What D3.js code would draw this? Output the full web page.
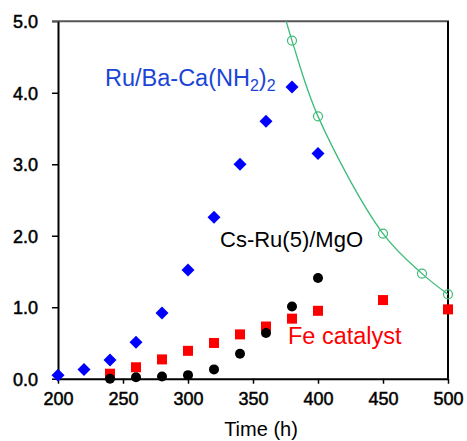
<!DOCTYPE html>
<html>
<head>
<meta charset="utf-8">
<script src="https://cdn.jsdelivr.net/npm/d3@7"></script>
<style>
  body { margin: 0; background: #fff; }
  text { font-family: "Liberation Sans", Arial, sans-serif; }
</style>
</head>
<body>
<div id="chart"></div>
<script>
// Data
const ruBaTime = [200, 220, 240, 260, 280, 300, 320, 340, 360, 380, 400];
const ruBaRate = [0.05, 0.13, 0.26, 0.51, 0.92, 1.52, 2.26, 3.0, 3.6, 4.08, 3.15];

const csRuTime = [240, 260, 280, 300, 320, 340, 360, 380, 400];
const csRuRate = [0.0, 0.02, 0.03, 0.05, 0.13, 0.35, 0.64, 1.01, 1.41];

const feTime = [240, 260, 280, 300, 320, 340, 360, 380, 400, 450, 500];
const feRate = [0.07, 0.16, 0.27, 0.39, 0.50, 0.62, 0.73, 0.84, 0.95, 1.10, 0.97];

const greenTime = [380, 400, 450, 480, 500];
const greenRate = [4.73, 3.67, 2.03, 1.47, 1.18];
// trend curve as drawn (enters the top edge near 375 h)
const curveTime = [374, 380, 400, 450, 480, 500];
const curveRate = [5.1, 4.73, 3.67, 2.03, 1.47, 1.18];

const xTicks = [200, 250, 300, 350, 400, 450, 500];
const yTicks = [0, 1, 2, 3, 4, 5];

const width = 467, height = 441;
const plotL = 58, plotR = 448, plotT = 21.3, plotB = 378.7;

const svg = d3.select("#chart").append("svg")
    .attr("width", width)
    .attr("height", height);

const x = d3.scaleLinear().domain([200, 500]).range([plotL, plotR]);
const y = d3.scaleLinear().domain([0, 5]).range([plotB, plotT]);

svg.append("clipPath").attr("id", "plot")
  .append("rect")
    .attr("x", plotL).attr("y", plotT)
    .attr("width", plotR - plotL).attr("height", plotB - plotT);

// frame: top and right borders
svg.append("line")
    .attr("x1", plotL - 6).attr("x2", plotR + 1)
    .attr("y1", plotT).attr("y2", plotT)
    .attr("stroke", "#555").attr("stroke-width", 2);
svg.append("line")
    .attr("x1", plotR).attr("x2", plotR)
    .attr("y1", plotT).attr("y2", plotB)
    .attr("stroke", "#000").attr("stroke-width", 2);

// axes
const xAxis = svg.append("g")
    .attr("transform", `translate(0,${plotB})`)
    .call(d3.axisBottom(x).tickValues(xTicks).tickSize(5).tickPadding(9).tickSizeOuter(0));
const yAxis = svg.append("g")
    .attr("transform", `translate(${plotL},0)`)
    .call(d3.axisLeft(y).tickValues(yTicks).tickSize(6).tickPadding(14)
      .tickFormat(d3.format(".1f")).tickSizeOuter(0));

[xAxis, yAxis].forEach(g => {
  g.select(".domain").attr("stroke", "#000").attr("stroke-width", 2);
  g.selectAll(".tick line").attr("stroke", "#000").attr("stroke-width", 1.5);
  g.selectAll(".tick text")
    .attr("fill", "#000")
    .attr("stroke", "#000")
    .attr("stroke-width", 0.5)
    .style("font-size", "18px")
    .style("font-family", "'Liberation Sans', Arial, sans-serif");
});
yAxis.selectAll(".tick text").attr("dy", "0.36em");
yAxis.select(".tick:last-of-type line").attr("stroke", "#555");

svg.append("text")
    .attr("x", 261).attr("y", 436)
    .attr("text-anchor", "middle")
    .style("font-size", "20px")
    .text("Time (h)");

// green trend curve + hollow circles
const curvePts = curveTime.map((t, i) => [t, curveRate[i]]);
svg.append("path")
    .datum(curvePts)
    .attr("clip-path", "url(#plot)")
    .attr("fill", "none")
    .attr("stroke", "#3dbb78")
    .attr("stroke-width", 1.3)
    .attr("d", d3.line().x(d => x(d[0])).y(d => y(d[1])).curve(d3.curveCatmullRom));

svg.selectAll(".green")
  .data(greenTime.map((t, i) => [t, greenRate[i]]))
  .enter().append("circle")
    .attr("class", "green")
    .attr("cx", d => x(d[0])).attr("cy", d => y(d[1]))
    .attr("r", 4.5)
    .attr("fill", "none")
    .attr("stroke", "#3dbb78")
    .attr("stroke-width", 1.2);

// Fe catalyst: red squares
svg.selectAll(".fe")
  .data(feTime.map((t, i) => [t, feRate[i]]))
  .enter().append("rect")
    .attr("class", "fe")
    .attr("x", d => x(d[0]) - 5).attr("y", d => y(d[1]) - 5)
    .attr("width", 10).attr("height", 10)
    .attr("fill", "#ff0000");

// Cs-Ru(5)/MgO: black dots
svg.selectAll(".csru")
  .data(csRuTime.map((t, i) => [t, csRuRate[i]]))
  .enter().append("circle")
    .attr("class", "csru")
    .attr("cx", d => x(d[0])).attr("cy", d => y(d[1]))
    .attr("r", 5)
    .attr("fill", "#000");

// Ru/Ba-Ca(NH2)2: blue diamonds
svg.selectAll(".ruba")
  .data(ruBaTime.map((t, i) => [t, ruBaRate[i]]))
  .enter().append("path")
    .attr("class", "ruba")
    .attr("transform", d => `translate(${x(d[0])},${y(d[1])})`)
    .attr("d", "M0,-6.5L6.5,0L0,6.5L-6.5,0Z")
    .attr("fill", "#0000ff");

// series labels
const ruLabel = svg.append("text")
    .attr("x", 105).attr("y", 86)
    .attr("fill", "#1a45d6")
    .style("font-size", "23.5px");
ruLabel.append("tspan").text("Ru/Ba-Ca(NH");
ruLabel.append("tspan").attr("dy", 5).style("font-size", "16px").text("2");
ruLabel.append("tspan").attr("dy", -5).text(")");
ruLabel.append("tspan").attr("dy", 5).style("font-size", "16px").text("2");

svg.append("text")
    .attr("x", 220).attr("y", 247)
    .attr("fill", "#000")
    .style("font-size", "22px")
    .text("Cs-Ru(5)/MgO");

svg.append("text")
    .attr("x", 288).attr("y", 344)
    .attr("fill", "#ff0000")
    .style("font-size", "23.5px")
    .text("Fe catalyst");
</script>
</body>
</html>
